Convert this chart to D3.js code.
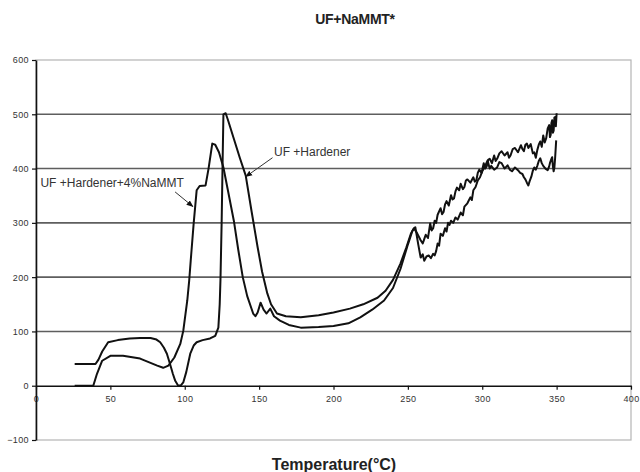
<!DOCTYPE html>
<html>
<head>
<meta charset="utf-8">
<script src="https://cdn.jsdelivr.net/npm/d3@7"></script>
<style>
  body { margin: 0; background: #fff; }
  svg { display: block; font-family: "Liberation Sans", Arial, sans-serif; }
</style>
</head>
<body>
<svg id="chart" width="640" height="472"></svg>
<script>
// temperature (°C), signal
const hardener = [
  [26, 40], [40, 40], [42, 48], [44.5, 63], [48.5, 80], [55, 84], [63, 87], [70, 88], [77, 88],
  [81, 85], [83.5, 80], [86, 70], [88, 59], [90, 41], [92, 22], [93.6, 9], [95.6, 0], [97.5, 1],
  [99, 6], [101, 25], [103.7, 59], [106, 74], [108, 80], [112, 84], [117, 87], [120.5, 92],
  [122.6, 107], [123.5, 150], [124, 194], [124.8, 300], [125.5, 420], [126, 500], [127.5, 502],
  [129, 490], [133, 455], [137, 420], [141, 387], [145, 320], [149, 255], [152, 210], [155.5, 170],
  [158, 150], [162, 133], [168, 128], [178, 126], [190, 130], [200, 135], [211, 142], [220, 150],
  [229.6, 162], [235, 175], [240, 195], [245, 225], [249, 255], [252, 280], [254, 290], [256, 282],
  [258.6, 268], [260, 262], [261, 270], [262, 278], [263.5, 272], [265, 299], [266, 286], [267, 290],
  [268, 304], [269, 300], [270, 315], [272, 327], [273, 316], [274, 320], [275, 334], [276, 340],
  [277.5, 332], [279, 351], [280, 343], [281, 345], [282, 358], [283, 365], [284.5, 360],
  [285.5, 372], [287, 362], [288, 366], [289, 378], [290, 380], [292, 374], [294, 384], [295, 376],
  [296, 378], [297, 392], [298, 398], [299.5, 392], [301, 410], [302, 400], [303, 404], [304, 416],
  [305, 418], [306.5, 410], [308, 424], [309, 414], [310, 418], [311.5, 428], [313, 432],
  [315, 424], [317, 430], [318, 420], [319, 424], [320.5, 436], [322, 438], [324, 430], [326, 443],
  [327, 436], [328, 432], [329, 444], [330, 446], [331, 438], [332.6, 445], [334, 428], [335, 430],
  [336, 420], [337, 434], [338, 444], [339, 450], [340, 440], [341, 461], [342, 448], [343, 456],
  [344, 474], [345, 480], [345.5, 458], [346, 462], [346.5, 484], [347, 489], [347.5, 466],
  [348, 470], [348.5, 494], [349, 495], [349.5, 478], [350, 502]
];

const hardenerNaMMT = [
  [26, 0], [38.5, 0], [41, 22], [44.5, 46], [50, 55], [58.5, 55], [70, 50], [81.5, 37], [85.5, 33],
  [89, 37], [93, 52], [97, 77], [99, 101], [101.7, 157], [103, 194], [104, 230], [106, 299],
  [108, 360], [110, 368], [114, 369], [116, 400], [118.5, 446], [120.5, 444], [123, 430],
  [126, 402], [129, 360], [133, 304], [136, 250], [139, 200], [142, 165], [146, 133], [147.5, 128],
  [149, 135], [151, 153], [153, 140], [155, 133], [157.5, 142], [160, 128], [164, 120], [170, 112],
  [178, 107], [190, 108], [200, 110], [210, 115], [218, 126], [226, 140], [234, 157], [240, 180],
  [245, 215], [250, 260], [253, 285], [255, 292], [257, 260], [258.6, 236], [260, 242], [261, 230],
  [262.5, 238], [264, 240], [265.5, 235], [267, 243], [268, 240], [269, 248], [270, 262],
  [271, 258], [272, 280], [273.5, 276], [275, 290], [276, 284], [277, 300], [278, 296], [279, 304],
  [280.5, 300], [282, 310], [283.5, 306], [285.5, 319], [287, 314], [288, 330], [290, 336],
  [292, 347], [293, 342], [294, 360], [295.5, 366], [297, 378], [298.5, 384], [300, 395],
  [301.5, 402], [303.6, 415], [305, 400], [306, 405], [308, 398], [310, 402], [311.5, 412],
  [313, 410], [315, 400], [317, 406], [318.5, 398], [320, 395], [322, 402], [324, 397], [325.5, 392],
  [327, 390], [328, 384], [329, 380], [330, 374], [331, 369], [332, 378], [333, 385], [334, 396],
  [335, 402], [336, 398], [337, 405], [338, 414], [339, 419], [340, 410], [341, 405], [342.5, 400],
  [344, 397], [345, 404], [345.5, 410], [346.5, 418], [347, 421], [347.5, 404], [348, 395],
  [348.5, 402], [349, 420], [349.7, 452]
];

const xTicks = [0, 50, 100, 150, 200, 250, 300, 350, 400];
const yTicks = [-100, 0, 100, 200, 300, 400, 500, 600];

// label text, label anchor [T, value], arrow from, arrow to
const notes = [
  { text: 'UF +Hardener', at: [160, 423], from: [159, 420], to: [141, 385] },
  { text: 'UF +Hardener+4%NaMMT', at: [3, 366], from: [93.5, 357], to: [105.5, 330] }
];

const svg = d3.select('#chart');
const plotLeft = 36, plotRight = 631, plotTop = 60, plotBottom = 440;

const x = d3.scaleLinear().domain([0, 400]).range([plotLeft, plotRight]);
const y = d3.scaleLinear().domain([-100, 600]).range([plotBottom, plotTop]);

//рамка области построения
svg.append('rect')
  .attr('x', plotLeft).attr('y', plotTop)
  .attr('width', plotRight - plotLeft).attr('height', plotBottom - plotTop)
  .style('fill', 'none')
  .style('stroke', '#b4b4b4')
  .style('stroke-width', 1.2);

//сетка
svg.append('g')
  .selectAll('line')
  .data(yTicks.filter(v => v > 0 && v < 600))
  .enter()
  .append('line')
  .attr('x1', plotLeft).attr('x2', plotRight)
  .attr('y1', d => y(d)).attr('y2', d => y(d))
  .style('stroke', '#5e5e5e')
  .style('stroke-width', 1.6);

const xAxis = svg.append('g')
  .attr('transform', `translate(0,${y(0)})`)
  .call(d3.axisBottom(x).tickValues(xTicks).tickSize(4).tickPadding(6).tickSizeOuter(0));

const yAxis = svg.append('g')
  .attr('transform', `translate(${plotLeft},0)`)
  .call(d3.axisLeft(y).tickValues(yTicks).tickSize(4).tickPadding(3).tickSizeOuter(0));

[xAxis, yAxis].forEach(a => {
  a.select('.domain').style('stroke', '#111').style('stroke-width', 1.6);
  a.selectAll('.tick line').style('stroke', '#111').style('stroke-width', 1.2);
  a.selectAll('.tick text')
    .style('font-family', '"Liberation Sans", Arial, sans-serif')
    .style('font-size', '9px')
    .style('fill', '#333')
    .style('letter-spacing', '0.4px');
});

//кривые
const line = d3.line()
  .x(d => x(d[0]))
  .y(d => y(d[1]));

svg.selectAll('path.curve')
  .data([hardener, hardenerNaMMT])
  .enter()
  .append('path')
  .classed('curve', true)
  .attr('d', line)
  .style('fill', 'none')
  .style('stroke', '#111')
  .style('stroke-width', 2)
  .style('stroke-linejoin', 'round');

//подписи со стрелками
svg.append('defs')
  .append('marker')
  .attr('id', 'arrow')
  .attr('viewBox', '0 0 10 10')
  .attr('refX', 9).attr('refY', 5)
  .attr('markerWidth', 7).attr('markerHeight', 7)
  .attr('orient', 'auto')
  .append('path')
  .attr('d', 'M0,1L10,5L0,9Z')
  .style('fill', '#111');

const noteGroup = svg.selectAll('g.note')
  .data(notes)
  .enter()
  .append('g')
  .classed('note', true);

noteGroup.append('line')
  .attr('x1', d => x(d.from[0])).attr('y1', d => y(d.from[1]))
  .attr('x2', d => x(d.to[0])).attr('y2', d => y(d.to[1]))
  .style('stroke', '#333')
  .style('stroke-width', 1)
  .attr('marker-end', 'url(#arrow)');

noteGroup.append('text')
  .attr('x', d => x(d.at[0]))
  .attr('y', d => y(d.at[1]))
  .style('font-size', '12px')
  .style('fill', '#333')
  .text(d => d.text);

svg.append('text')
  .attr('x', 355).attr('y', 24)
  .attr('text-anchor', 'middle')
  .style('font-size', '14px')
  .style('font-weight', 'bold')
  .style('letter-spacing', '-0.3px')
  .style('fill', '#222')
  .text('UF+NaMMT*');

svg.append('text')
  .attr('x', 334).attr('y', 470)
  .attr('text-anchor', 'middle')
  .style('font-size', '16px')
  .style('font-weight', 'bold')
  .style('fill', '#222')
  .text('Temperature(°C)');
</script>
</body>
</html>
